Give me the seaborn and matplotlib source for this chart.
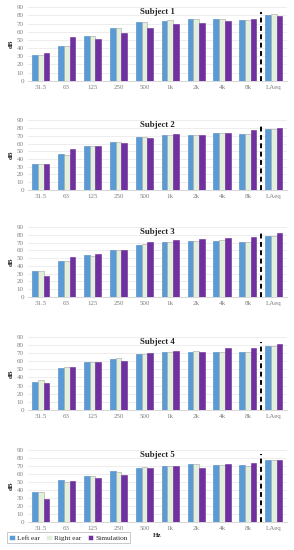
import numpy as np
import pandas as pd
import matplotlib
matplotlib.use("Agg")
import matplotlib.pyplot as plt
import seaborn as sns

sns.set_style("white")
plt.rcParams["font.family"] = ["Liberation Serif", "DejaVu Serif"]

# ----------------------------
# Data
# ----------------------------
bands = ["31.5", "63", "125", "250", "500", "1k", "2k", "4k", "8k", "LAeq"]
sources = ["Left ear", "Right ear", "Simulation"]

s1_left = [31, 43, 55, 64, 72, 73, 75, 76, 74, 81]
s1_right = [31, 42, 55, 65, 72, 74, 76, 76, 74, 82]
s1_sim = [34, 53, 51, 59, 65, 70, 71, 73, 75, 79]

s2_left = [33, 46, 57, 62, 68, 71, 71, 74, 73, 79]
s2_right = [33, 45, 57, 62, 68, 71, 71, 74, 72, 79]
s2_sim = [34, 53, 57, 61, 67, 72, 71, 74, 77, 80]

s3_left = [34, 47, 54, 61, 67, 71, 72, 72, 71, 78]
s3_right = [34, 46, 53, 61, 68, 71, 72, 73, 71, 78]
s3_sim = [27, 51, 56, 61, 71, 74, 75, 76, 77, 82]

s4_left = [35, 52, 59, 63, 69, 72, 72, 72, 72, 79]
s4_right = [37, 53, 59, 64, 69, 72, 73, 72, 71, 79]
s4_sim = [33, 53, 59, 61, 70, 73, 72, 76, 77, 81]

s5_left = [37, 52, 57, 64, 68, 70, 72, 71, 71, 78]
s5_right = [37, 50, 57, 63, 69, 70, 72, 71, 70, 78]
s5_sim = [29, 51, 55, 59, 67, 70, 68, 73, 74, 78]

subjects = {
    "Subject 1": (s1_left, s1_right, s1_sim),
    "Subject 2": (s2_left, s2_right, s2_sim),
    "Subject 3": (s3_left, s3_right, s3_sim),
    "Subject 4": (s4_left, s4_right, s4_sim),
    "Subject 5": (s5_left, s5_right, s5_sim),
}

palette = {"Left ear": "#5B9BD5", "Right ear": "#E2EFDA", "Simulation": "#7030A0"}
edges = {"Left ear": "#4A86BE", "Right ear": "#A5A5A5", "Simulation": "#6A2C96"}

# axes positions [left, bottom, width, height] in figure fractions
positions = [
    [0.095, 0.853, 0.88, 0.134],
    [0.095, 0.655, 0.88, 0.126],
    [0.095, 0.460, 0.88, 0.127],
    [0.095, 0.255, 0.88, 0.132],
    [0.095, 0.051, 0.88, 0.131],
]

fig = plt.figure(figsize=(2.94, 5.5), dpi=100)

for i, (name, (left, right, sim)) in enumerate(subjects.items()):
    ax = fig.add_axes(positions[i])
    df = pd.DataFrame({
        "band": bands * 3,
        "dB": left + right + sim,
        "source": ["Left ear"] * 10 + ["Right ear"] * 10 + ["Simulation"] * 10,
    })
    sns.barplot(data=df, x="band", y="dB", hue="source", order=bands,
                hue_order=sources, palette=palette, saturation=1,
                width=0.66, ax=ax, legend=(i == 4), linewidth=0.4)
    for container, src in zip(ax.containers, sources):
        for bar in container:
            bar.set_edgecolor(edges[src])

    ax.axvline(8.5, ymax=0.94, color="black", linestyle=(0, (2.5, 1.8)), linewidth=1.4)
    ax.set_ylim(0, 90)
    ax.set_yticks(range(0, 91, 10))
    ax.set_xlim(-0.5, 9.5)
    ax.grid(axis="y", color="#E6E6E6", linewidth=0.5)
    ax.set_axisbelow(True)
    for side in ["top", "right", "left"]:
        ax.spines[side].set_visible(False)
    ax.spines["bottom"].set_color("#D0D0D0")
    ax.spines["bottom"].set_linewidth(0.6)
    ax.tick_params(axis="both", length=0, labelsize=5, colors="#7F7F7F", pad=3)
    ax.set_ylabel("dB", fontsize=5, fontweight="bold", labelpad=2)
    ax.set_xlabel("Hz" if i == 4 else "", fontsize=5, fontweight="bold", labelpad=1)
    ax.text(0.5, 0.93, name, transform=ax.transAxes, ha="center", va="center",
            fontsize=6.3, fontweight="bold")

    if i == 4:
        leg = ax.legend(loc="upper left", bbox_to_anchor=(-0.095, -0.095), ncol=3,
                        fontsize=5.2, frameon=True, handlelength=0.75,
                        handleheight=0.75, handletextpad=0.3, columnspacing=0.9,
                        borderpad=0.3, fancybox=False)
        leg.get_frame().set_edgecolor("#A0A0A0")
        leg.get_frame().set_linewidth(0.5)

fig.savefig("out.png", dpi=100)
